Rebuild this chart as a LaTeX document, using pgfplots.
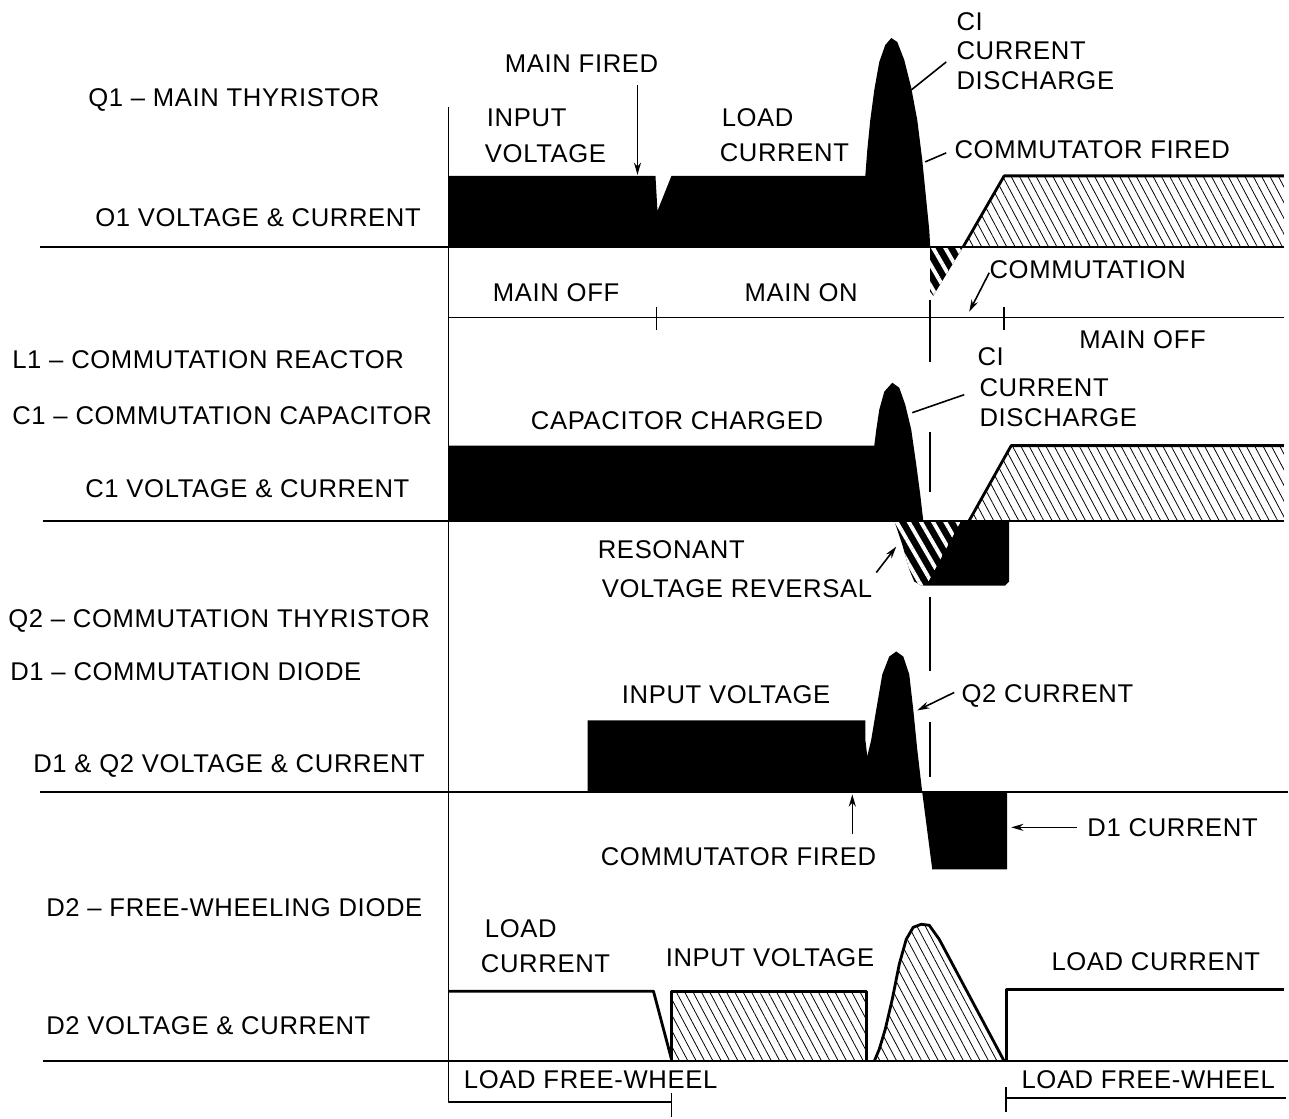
\documentclass[border=0pt]{standalone}
\usepackage{pgfplots}
\pgfplotsset{compat=1.18}
\usepackage{fontspec}
\setmainfont{Liberation Sans}[LetterSpace=2.5]
\usetikzlibrary{patterns.meta,arrows.meta}

\tikzset{
  lbl/.style={anchor=base west, inner sep=0pt, font=\fontsize{14.6}{17}\selectfont},
  fine/.style={pattern={Lines[angle=-62,distance=4.2pt,line width=0.45pt]}, pattern color=black},
  stripes/.style={pattern={Lines[angle=-60,distance=6pt,line width=2.2pt]}, pattern color=white},
  arr/.style={-{Stealth[length=7pt,width=4pt]}, line width=0.9pt},
}

\begin{document}
\begin{tikzpicture}
\begin{axis}[
  scale only axis, width=25.78cm, height=22.38cm,
  xmin=0, xmax=1289, ymin=0, ymax=1119, y dir=reverse,
  hide axis, clip=false,
  unbounded coords=jump,
  every axis plot/.append style={line join=round, mark=none},
]
% invisible frame so the page has the reference's size
\addplot[draw=none] coordinates {(0,0) (1289,1119)};

% ---------------- Q1 voltage & current
\addplot[fill=black, draw=none] coordinates {
  (449,247) (449,176) (656,176) (658,211) (672,176) (866,176)
  (868,150) (871,120) (875,90) (880,62) (886,45) (892,38) (898,42)
  (905,60) (912,88) (918,120) (923,160) (927,200) (930,230) (931,247)};
\addplot[fill=black, draw=none] coordinates {(931,247) (931,292) (934,296) (964,247)};
\addplot[stripes, draw=none] coordinates {(931,247) (931,292) (934,296) (964,247)};
\addplot[fine, draw=none] coordinates {(964,247) (1005,176) (1285,176) (1285,247)};
\addplot[black, line width=1.6pt] coordinates {(964,247) (1005,176) (1285,176)};

% ---------------- C1 voltage & current
\addplot[fill=black, draw=none] coordinates {
  (449,521) (449,446) (875,446) (877,430) (880,410) (885,392) (893,383)
  (900,388) (906,405) (912,430) (917,465) (921,495) (924,521)};
\addplot[fill=black, draw=none] coordinates {
  (895,521) (903,545) (910,570) (915,582) (922,586) (1006,586) (1010,582) (1010,521)};
\addplot[stripes, draw=none] coordinates {
  (895,521) (903,545) (910,570) (915,582) (922,586) (927,586) (962,521)};
\addplot[fine, draw=none] coordinates {(970,521) (1012,446) (1285,446) (1285,521)};
\addplot[black, line width=1.6pt] coordinates {(970,521) (1012,446) (1285,446)};

% ---------------- D1 & Q2 voltage & current
\addplot[fill=black, draw=none] coordinates {
  (588,793) (588,721) (866,721) (866,740) (868,757) (872,740) (877,710)
  (883,675) (890,657) (897,652) (904,657) (910,675) (914,710) (918,750)
  (923,793) (933,870) (1008,870) (1008,793)};

% ---------------- D2 voltage & current
\addplot[black, line width=1.6pt] coordinates {(449,992) (654,992) (672,1060)};
\addplot[fine, draw=black, line width=1.6pt] coordinates {(672,1062) (672,992) (867,992) (867,1062)};
\addplot[fine, draw=none] coordinates {
  (875,1062) (880,1050) (886,1030) (893,1000) (900,965) (907,940) (914,928)
  (922,925) (930,926) (940,940) (1005,1062)};
\addplot[black, line width=1.6pt] coordinates {
  (875,1062) (880,1050) (886,1030) (893,1000) (900,965) (907,940) (914,928)
  (922,925) (930,926) (940,940) (1005,1062)};
\addplot[black, line width=1.6pt] coordinates {(1007,1062) (1007,990) (1285,990)};

% ---------------- base lines, time axis, brackets
\addplot[black, line width=1.2pt] coordinates {(40,247) (1285,247)};
\addplot[black, line width=1.2pt] coordinates {(43,521) (1285,521)};
\addplot[black, line width=1.2pt] coordinates {(40,793) (1289,793)};
\addplot[black, line width=1.2pt] coordinates {(43,1062) (1289,1062)};
\addplot[black, line width=0.9pt] coordinates {(449,107) (449,1103) (672,1103)};
\addplot[black, line width=0.9pt] coordinates {(672,1094) (672,1118)};
\addplot[black, line width=0.9pt] coordinates {(1007,1088) (1007,1113)};
\addplot[black, line width=0.9pt] coordinates {(1007,1099) (1287,1099)};
\addplot[black, line width=0.7pt] coordinates {(449,318) (1285,318)};
\addplot[black, line width=0.9pt] coordinates {(657,307) (657,330)};
\addplot[black, line width=0.9pt] coordinates {(1005,307) (1005,330)};
\addplot[black, line width=0.9pt] coordinates {
  (931,300) (931,362) (931,nan) (931,432) (931,492) (931,nan)
  (931,597) (931,672) (931,nan) (931,723) (931,778)};

% ---------------- pointers
\addplot[arr] coordinates {(638,85) (638,175)};
\addplot[black, line width=0.9pt] coordinates {(912,90) (947,62)};
\addplot[black, line width=0.9pt] coordinates {(926,162) (947,153)};
\addplot[arr] coordinates {(990,273) (970,312)};
\addplot[black, line width=0.9pt] coordinates {(913,413) (965,395)};
\addplot[arr] coordinates {(877,573) (897,547)};
\addplot[arr] coordinates {(955,693) (918,711)};
\addplot[arr] coordinates {(853,835) (853,795)};
\addplot[arr] coordinates {(1078,828) (1012,828)};

% ---------------- left labels
\node[lbl] at (axis cs:88,107) {Q1 – MAIN THYRISTOR};
\node[lbl] at (axis cs:95,227) {O1 VOLTAGE \& CURRENT};
\node[lbl] at (axis cs:12,369) {L1 – COMMUTATION REACTOR};
\node[lbl] at (axis cs:12,425) {C1 – COMMUTATION CAPACITOR};
\node[lbl] at (axis cs:85,498) {C1 VOLTAGE \& CURRENT};
\node[lbl] at (axis cs:8,628) {Q2 – COMMUTATION THYRISTOR};
\node[lbl] at (axis cs:10,681) {D1 – COMMUTATION DIODE};
\node[lbl] at (axis cs:33,773) {D1 \& Q2 VOLTAGE \& CURRENT};
\node[lbl] at (axis cs:46,917) {D2 – FREE-WHEELING DIODE};
\node[lbl] at (axis cs:46,1035) {D2 VOLTAGE \& CURRENT};

% ---------------- annotations
\node[lbl] at (axis cs:505,73) {MAIN FIRED};
\node[lbl] at (axis cs:487,127) {INPUT};
\node[lbl] at (axis cs:485,163) {VOLTAGE};
\node[lbl] at (axis cs:722,127) {LOAD};
\node[lbl] at (axis cs:720,162) {CURRENT};
\node[lbl] at (axis cs:957,31) {CI};
\node[lbl] at (axis cs:957,60) {CURRENT};
\node[lbl] at (axis cs:957,90) {DISCHARGE};
\node[lbl] at (axis cs:955,159) {COMMUTATOR FIRED};
\node[lbl] at (axis cs:990,279) {COMMUTATION};
\node[lbl] at (axis cs:493,302) {MAIN OFF};
\node[lbl] at (axis cs:745,302) {MAIN ON};
\node[lbl] at (axis cs:1080,349) {MAIN OFF};
\node[lbl] at (axis cs:531,430) {CAPACITOR CHARGED};
\node[lbl] at (axis cs:978,366) {CI};
\node[lbl] at (axis cs:980,397) {CURRENT};
\node[lbl] at (axis cs:980,427) {DISCHARGE};
\node[lbl] at (axis cs:598,559) {RESONANT};
\node[lbl] at (axis cs:602,598) {VOLTAGE REVERSAL};
\node[lbl] at (axis cs:622,704) {INPUT VOLTAGE};
\node[lbl] at (axis cs:962,703) {Q2 CURRENT};
\node[lbl] at (axis cs:601,866) {COMMUTATOR FIRED};
\node[lbl] at (axis cs:1088,837) {D1 CURRENT};
\node[lbl] at (axis cs:485,938) {LOAD};
\node[lbl] at (axis cs:481,973) {CURRENT};
\node[lbl] at (axis cs:666,967) {INPUT VOLTAGE};
\node[lbl] at (axis cs:1052,971) {LOAD CURRENT};
\node[lbl] at (axis cs:464,1089) {LOAD FREE-WHEEL};
\node[lbl] at (axis cs:1022,1089) {LOAD FREE-WHEEL};
\end{axis}
\end{tikzpicture}
\end{document}
